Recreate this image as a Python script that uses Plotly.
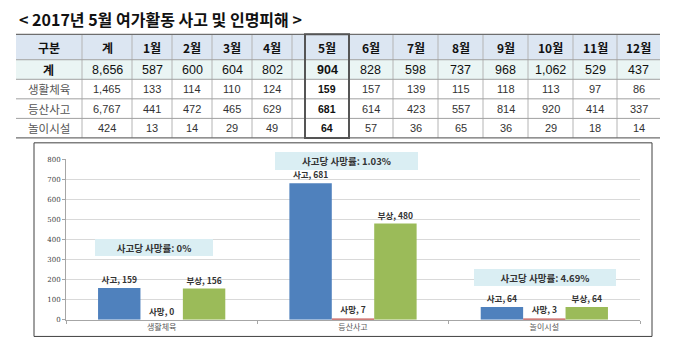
import plotly.graph_objects as go

W, H = 680, 359

# ---------------- data ----------------
title_text = "< 2017년 5월 여가활동 사고 및 인명피해 >"
header = ["구분", "계", "1월", "2월", "3월", "4월", "5월", "6월", "7월", "8월", "9월", "10월", "11월", "12월"]
row_names = ["계", "생활체육", "등산사고", "놀이시설"]
total_row = [8656, 587, 600, 604, 802, 904, 828, 598, 737, 968, 1062, 529, 437]
sports_row = [1465, 133, 114, 110, 124, 159, 157, 139, 115, 118, 113, 97, 86]
hiking_row = [6767, 441, 472, 465, 629, 681, 614, 423, 557, 814, 920, 414, 337]
playground_row = [424, 13, 14, 29, 49, 64, 57, 36, 65, 36, 29, 18, 14]

categories = ["생활체육", "등산사고", "놀이시설"]
accidents = [159, 681, 64]
deaths = [0, 7, 3]
injuries = [156, 480, 64]
death_rates = ["0%", "1.03%", "4.69%"]

# ---------------- helpers ----------------
def px(x):
    return x / W

def py(y):
    return 1 - y / H

FONT = "Noto Sans CJK KR"

shapes = []
annotations = []

def note(x, y, text, font, **kw):
    d = dict(x=px(x), y=py(y), xref="paper", yref="paper", showarrow=False,
             xanchor="center", yanchor="middle", text=text, font=font)
    d.update(kw)
    annotations.append(d)

# title
note(17, 15, "<b>" + title_text + "</b>", dict(family=FONT, size=16, color="#111111"), xanchor="left")

# ---------------- table ----------------
col_edges = [82, 132, 172, 212, 252, 292, 349, 393, 438, 483, 528, 573, 617]
col_spans = [(16, 82), (82, 132), (132, 172), (172, 212), (212, 252), (252, 292),
             (305, 349), (349, 393), (393, 438), (438, 483), (483, 528), (528, 573), (573, 617), (617, 660)]
row_edges = [31, 57, 77, 97, 117, 137]
TL, TR = 16, 660

shapes.append(dict(type="rect", xref="paper", yref="paper", x0=px(TL), x1=px(TR), y0=py(57), y1=py(31),
                   fillcolor="#DCE6F2", line=dict(width=0), layer="below"))
shapes.append(dict(type="rect", xref="paper", yref="paper", x0=px(TL), x1=px(TR), y0=py(77), y1=py(57),
                   fillcolor="#EAF5F4", line=dict(width=0), layer="below"))

for x in col_edges:
    shapes.append(dict(type="line", xref="paper", yref="paper", x0=px(x), x1=px(x), y0=py(31), y1=py(137),
                       line=dict(color="#B4B4B4", width=1)))
for i, y in enumerate(row_edges):
    edge = i in (0, 5)
    shapes.append(dict(type="line", xref="paper", yref="paper", x0=px(TL), x1=px(TR), y0=py(y), y1=py(y),
                       line=dict(color="#6E6E6E" if edge else "#A0A0A0", width=1.3 if edge else 1)))
shapes.append(dict(type="rect", xref="paper", yref="paper", x0=px(305), x1=px(349), y0=py(137), y1=py(31),
                   line=dict(color="#555555", width=2), fillcolor="rgba(0,0,0,0)"))

def fmt(v):
    return f"{v:,}"

centers = [(a + b) / 2 for a, b in col_spans]
row_centers = [(row_edges[i] + row_edges[i + 1]) / 2 for i in range(5)]

for c, h in zip(centers, header):
    note(c, row_centers[0], "<b>" + h + "</b>", dict(family=FONT, size=12, color="#111111"))

data_rows = [total_row, sports_row, hiking_row, playground_row]
for r, (name, vals) in enumerate(zip(row_names, data_rows)):
    yc = row_centers[r + 1]
    if r == 0:
        note(centers[0], yc, "<b>" + name + "</b>", dict(family=FONT, size=12, color="#111111"))
    else:
        note(centers[0], yc, name, dict(family=FONT, size=11.5, color="#555555"))
    for j, v in enumerate(vals):
        t = fmt(v)
        if j == 5:
            t = "<b>" + t + "</b>"
        if r == 0:
            f = dict(family="Liberation Sans", size=12.5, color="#111111")
        elif j == 5:
            f = dict(family="Liberation Sans", size=10.5, color="#111111")
        else:
            f = dict(family="Liberation Sans Narrow, Liberation Sans", size=11, color="#333333")
        note(centers[j + 1], yc, t, f)

# ---------------- chart ----------------
shapes.append(dict(type="rect", xref="paper", yref="paper", x0=px(34), x1=px(652), y0=py(340), y1=py(142),
                   line=dict(color="#404040", width=1), fillcolor="rgba(0,0,0,0)"))

bar_font = dict(family=FONT, size=8.5, color="#333333")
series = [("사고", accidents, "#4F81BD"), ("사망", deaths, "#C0504D"), ("부상", injuries, "#9BBB59")]
fig = go.Figure()
for name, vals, color in series:
    fig.add_trace(go.Bar(
        x=categories, y=vals, name=name, marker=dict(color=color, line=dict(width=0)),
        texttemplate="<b>" + name + ", %{y}</b>", textposition="outside", textfont=bar_font,
        constraintext="none", cliponaxis=False, showlegend=False, hoverinfo="skip"))

rate_boxes = [(154, 249.5, 118, 17), (346, 161, 143, 18), (545, 279.5, 142, 17)]
for (cx, cy, bw, bh), rate in zip(rate_boxes, death_rates):
    note(cx, cy, "<b>사고당 사망률: " + rate + "</b>", dict(family=FONT, size=9.5, color="#333333"),
         width=bw, height=bh, bgcolor="#DAEEF3", borderpad=0, borderwidth=0, valign="middle")

fig.update_layout(
    width=W, height=H, margin=dict(l=0, r=0, t=0, b=0),
    paper_bgcolor="white", plot_bgcolor="white",
    barmode="group", bargap=0.335, bargroupgap=0,
    shapes=shapes, annotations=annotations, showlegend=False,
    xaxis=dict(domain=[px(66), px(640)], showline=True, linecolor="#A6A6A6", linewidth=1,
               ticks="outside", tickson="boundaries", ticklen=3, tickcolor="#A6A6A6",
               tickfont=dict(family=FONT, size=8, color="#595959"), showgrid=False),
    yaxis=dict(domain=[py(323), py(159)], range=[0, 800], dtick=100, showline=True,
               linecolor="#A6A6A6", linewidth=1, ticks="outside", ticklen=3, tickcolor="#A6A6A6",
               gridcolor="#D9D9D9", gridwidth=1.3, zeroline=False,
               tickfont=dict(family="DejaVu Serif", size=7, color="#404040")),
)

fig.write_html("out.html", config={"displayModeBar": False},
               post_script="document.body.style.margin='0';document.body.style.overflow='hidden';")
